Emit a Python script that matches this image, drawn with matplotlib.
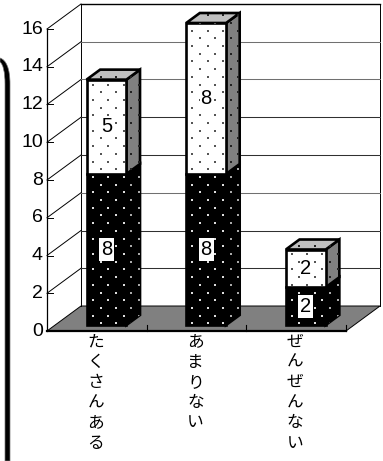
import numpy as np
import matplotlib
matplotlib.use('Agg')
import matplotlib.pyplot as plt
from matplotlib.patches import Polygon, PathPatch
from matplotlib.path import Path

plt.rcParams['font.family'] = ['Liberation Sans', 'Noto Sans CJK JP', 'DejaVu Sans']

categories = ['たくさんある', 'あまりない', 'ぜんぜんない']
lower_values = [8, 8, 2]
upper_values = [5, 8, 2]
y_ticks = [0, 2, 4, 6, 8, 10, 12, 14, 16]

W, H = 383, 461
fig = plt.figure(figsize=(W / 100, H / 100), dpi=100)
ax = fig.add_axes([47 / W, 1 - 331 / H, 299 / W, 302 / H])
ax.set_xlim(0, 3)
ax.set_ylim(0, 16)
ax.axis('off')

# depth of the fake 3d box in data units
dx = 34 / (299 / 3)
dy = 25 / (302 / 16)


def pr(x, y, d=0.0):
    return (x + d * dx, y + d * dy)


def dots(poly, color, zorder):
    # stipple texture clipped to a face
    pts = poly.get_xy()
    sx = 15.3 / (299 / 3)
    sy = 7.7 / (302 / 16)
    xs, ys = [], []
    rows = np.arange(0, 20, sy)
    for n, r in enumerate(rows):
        start = 0.0 if n % 2 == 0 else sx / 2
        for c in np.arange(start, 3.5, sx):
            if pts[:, 0].min() <= c <= pts[:, 0].max() and pts[:, 1].min() <= r <= pts[:, 1].max():
                xs.append(c)
                ys.append(r)
    s = ax.scatter(xs, ys, s=1.1, marker='s', color=color, linewidths=0, zorder=zorder, clip_on=True)
    s.set_clip_path(poly)


def face(points, fc, dot, zorder):
    p = Polygon(points, closed=True, facecolor=fc, edgecolor='black', linewidth=1.9,
                zorder=zorder, clip_on=False, joinstyle='miter')
    ax.add_patch(p)
    dots(p, dot, zorder + 0.1)


# floor and walls
ax.add_patch(Polygon([pr(0, 0), pr(3, 0), pr(3, 0, 1), pr(0, 0, 1)], closed=True,
                     facecolor='#808080', edgecolor='black', linewidth=0.7, zorder=1, clip_on=False))
ax.plot(*zip(pr(0, 16, 1), pr(3, 16, 1)), color='black', lw=1.0, zorder=2, clip_on=False)
ax.plot(*zip(pr(0, 0, 1), pr(0, 16, 1)), color='black', lw=0.7, zorder=2, clip_on=False)
ax.plot(*zip(pr(3, 0, 1), pr(3, 16, 1)), color='black', lw=0.7, zorder=2, clip_on=False)
ax.plot([0, 0], [0, 16], color='black', lw=0.9, zorder=6, clip_on=False)
ax.plot([0, 3], [0, 0], color='black', lw=1.6, zorder=6, clip_on=False)

for v in y_ticks:
    if v > 0:
        ax.plot(*zip(pr(0, v), pr(0, v, 1)), color='black', lw=0.7, zorder=2, clip_on=False)
    if 0 < v < 16:
        col = '#707070' if v in (12, 14, 6) else '#303030'
        ax.plot(*zip(pr(0, v, 1), pr(3, v, 1)), color=col, lw=0.75, zorder=2, clip_on=False)
    ax.plot([0, 6 / (299 / 3)], [v, v], color='black', lw=0.7, zorder=6, clip_on=False)
    ax.annotate(str(v), xy=(0, v), xytext=(-4, 0), textcoords='offset pixels',
                ha='right', va='center', fontsize=14, color='black', annotation_clip=False)

for i in range(1, 4):
    ax.plot([i, i], [0, 6 / (302 / 16)], color='black', lw=0.8, zorder=1.5, clip_on=False)

# bars
bw = 0.4
d0, d1 = 0.24, 0.64
for i, (lo, up) in enumerate(zip(lower_values, upper_values)):
    x0 = i + 0.315
    x1 = x0 + bw
    tot = lo + up
    face([pr(x1, 0, d0), pr(x1, 0, d1), pr(x1, lo, d1), pr(x1, lo, d0)], 'black', '#aaaaaa', 3)
    face([pr(x1, lo, d0), pr(x1, lo, d1), pr(x1, tot, d1), pr(x1, tot, d0)], '#808080', '#222222', 3)
    face([pr(x0, tot, d0), pr(x1, tot, d0), pr(x1, tot, d1), pr(x0, tot, d1)], '#c0c0c0', '#222222', 3)
    face([pr(x0, 0, d0), pr(x1, 0, d0), pr(x1, lo, d0), pr(x0, lo, d0)], 'black', '#dddddd', 4)
    face([pr(x0, lo, d0), pr(x1, lo, d0), pr(x1, tot, d0), pr(x0, tot, d0)], 'white', '#555555', 4)
    cx = pr((x0 + x1) / 2, 0, d0)[0]
    ax.text(cx, pr(0, lo / 2, d0)[1], str(lo), ha='center', va='center', fontsize=14.5, zorder=7,
            color='black', bbox=dict(facecolor='white', edgecolor='none', pad=1.5))
    ax.text(cx, pr(0, lo + up / 2, d0)[1], str(up), ha='center', va='center', fontsize=14.5, zorder=7,
            color='black', bbox=dict(facecolor='white', edgecolor='none', pad=0.5))

# vertical kana labels, one character per row
for i, cat in enumerate(categories):
    for k, ch in enumerate(cat):
        ax.annotate(ch, xy=(i + 0.49, 0), xytext=(0, -11 - 20.2 * k), textcoords='offset pixels',
                    ha='center', va='center', fontsize=12, color='black', annotation_clip=False,
                    family=['Noto Sans CJK JP', 'DejaVu Sans'])

# heavy rule on the left edge of the page, curled over at the top
verts = [(0, 58), (6, 60), (10, 68), (10, 84), (10, 461), (5, 461), (5, 84), (5, 72), (3, 64), (0, 62), (0, 58)]
codes = [Path.MOVETO, Path.CURVE4, Path.CURVE4, Path.CURVE4, Path.LINETO, Path.LINETO, Path.LINETO,
         Path.CURVE4, Path.CURVE4, Path.CURVE4, Path.CLOSEPOLY]
rule = Path([(x / W, 1 - y / H) for x, y in verts], codes)
fig.add_artist(PathPatch(rule, transform=fig.transFigure, facecolor='black', edgecolor='#777777', linewidth=0.5))

fig.savefig('out.png', dpi=100)
